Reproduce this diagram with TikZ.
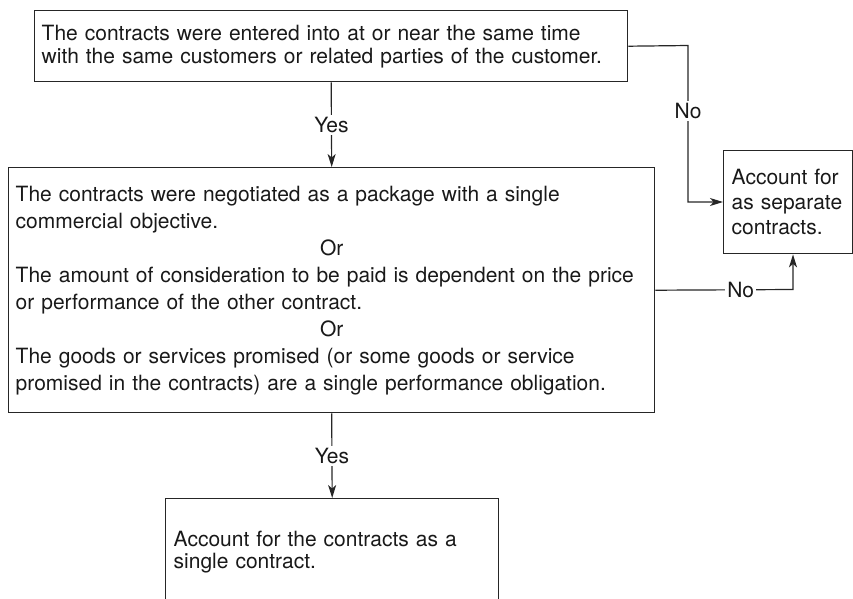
\documentclass[tikz,border=0pt]{standalone}
\usepackage{fontspec}
\setmainfont{TeX Gyre Heros}
\usetikzlibrary{arrows.meta}
\begin{document}
\begin{tikzpicture}[x=1pt,y=-1pt,
  box/.style={draw=black!85, line width=1.4pt, anchor=north west, align=left,
    inner xsep=7pt, inner ysep=0pt, text=black!90},
  body/.style={font=\fontsize{21}{#1}\selectfont},
  flow/.style={draw=black!85, line width=1.2pt,
    -{Stealth[length=13pt,width=8pt,inset=3.5pt]}},
  lab/.style={fill=white, inner sep=2pt, text=black!90,
    font=\fontsize{21}{23}\selectfont}]
\useasboundingbox (0,0) rectangle (853,598);
\clip (0,0) rectangle (853,598);

% decision boxes
\node[box, body=23, text width=579pt, minimum height=71pt] (q1) at (34,10)
  {The contracts were entered into at or near the same time\\
   with the same customers or related parties of the customer.};

\node[box, body=27, text width=632pt, minimum height=245pt] (q2) at (8,167)
  {The contracts were negotiated as a package with a single\\
   commercial objective.\\
   \makebox[\hsize]{Or}\\
   The amount of consideration to be paid is dependent on the price\\
   or performance of the other contract.\\
   \makebox[\hsize]{Or}\\
   The goods or services promised (or some goods or service\\
   promised in the contracts) are a single performance obligation.};

% outcome boxes
\node[box, body=25, inner xsep=8pt, text width=113pt, minimum height=103pt] (sep) at (723,150)
  {Account for\\ as separate\\ contracts.};

\node[box, body=22, inner xsep=8pt, text width=317pt, minimum height=106pt] (res) at (165,498)
  {Account for the contracts as a\\ single contract.};

% connectors
\draw[flow] (q1.south) -- node[lab]{Yes} (q2.north);
\draw[flow] (q2.south) -- node[lab]{Yes} (res.north);

\coordinate (c1) at (688,45.5);
\coordinate (c2) at (688,202);
\draw[flow] (q1.east) -- (c1) -- node[lab,pos=0.42]{No} (c2) -- (c2 -| sep.west);

\coordinate (c3) at (793,289.5);
\draw[flow] (q2.east) -- node[lab,pos=0.62]{No} (c3) -- (c3 |- sep.south);
\end{tikzpicture}
\end{document}
